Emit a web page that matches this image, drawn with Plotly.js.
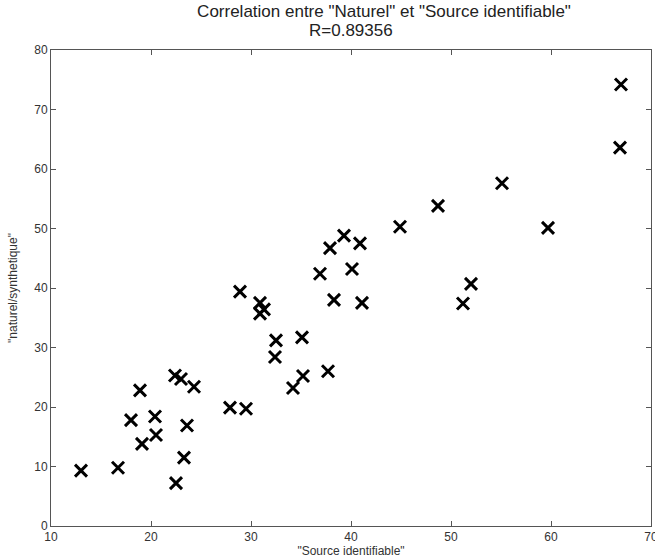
<!DOCTYPE html>
<html>
<head>
<meta charset="utf-8">
<script src="https://cdn.plot.ly/plotly-3.0.1.min.js"></script>
<style>html,body{margin:0;padding:0;background:#fff;}#chart{width:655px;height:559px;}</style>
</head>
<body>
<div id="chart"></div>
<script>
const sourceIdentifiable = [13.0, 16.7, 18.9, 18.0, 19.1, 20.4, 20.5, 22.4, 23.0, 24.3,
  23.6, 23.3, 22.5, 27.9, 29.5, 32.4, 32.5, 34.2, 35.2, 37.7,
  35.1, 28.9, 30.9, 31.3, 30.9, 36.9, 40.1, 38.3, 41.1, 37.9,
  39.3, 40.9, 44.9, 48.7, 55.1, 59.7, 52.0, 51.2, 67.0, 66.9];
const naturelSynthetique = [9.3, 9.8, 22.8, 17.8, 13.8, 18.4, 15.3, 25.3, 24.7, 23.4,
  16.9, 11.5, 7.2, 19.9, 19.7, 28.4, 31.2, 23.2, 25.2, 26.0,
  31.7, 39.4, 37.5, 36.4, 35.7, 42.4, 43.2, 38.0, 37.5, 46.7,
  48.8, 47.5, 50.3, 53.8, 57.6, 50.1, 40.7, 37.4, 74.2, 63.6];
const xTicks = [10, 20, 30, 40, 50, 60, 70];
const yTicks = [0, 10, 20, 30, 40, 50, 60, 70, 80];
const titleLine1 = 'Correlation entre "Naturel" et "Source identifiable"';
const titleLine2 = 'R=0.89356';

const FONT = 'Liberation Sans, Arial, sans-serif';

const trace = {
  x: sourceIdentifiable,
  y: naturelSynthetique,
  type: 'scatter',
  mode: 'markers',
  marker: {symbol: 'x-thin-open', size: 12, color: '#000', line: {color: '#000', width: 3}},
  hoverinfo: 'x+y'
};

const axisCommon = {
  showgrid: false, zeroline: false, showline: true, linecolor: '#555', linewidth: 1,
  mirror: 'ticks', ticks: 'inside', ticklen: 5, tickcolor: '#555',
  ticklabeloverflow: 'allow',
  tickfont: {family: FONT, size: 12, color: '#333'}
};

const layout = {
  width: 655, height: 559,
  margin: {l: 51, r: 4, t: 50, b: 33},
  paper_bgcolor: '#fff', plot_bgcolor: '#fff',
  showlegend: false,
  title: {
    text: titleLine1,
    font: {family: FONT, size: 17, color: '#222'},
    x: 0.555, xref: 'paper', xanchor: 'center',
    y: 0.98, yref: 'container', yanchor: 'middle'
  },
  annotations: [{
    text: titleLine2, showarrow: false,
    xref: 'paper', yref: 'paper', x: 0.5, y: 1.042, xanchor: 'center', yanchor: 'middle',
    font: {family: FONT, size: 17, color: '#222'}
  }],
  xaxis: Object.assign({}, axisCommon, {
    range: [10, 70], tickvals: xTicks, ticktext: xTicks.map(String),
    title: {text: '"Source identifiable"', standoff: 2,
      font: {family: FONT, size: 12, color: '#333'}}
  }),
  yaxis: Object.assign({}, axisCommon, {
    range: [0, 80], tickvals: yTicks, ticktext: yTicks.map(String),
    title: {text: '"naturel/synthetique"', standoff: 14,
      font: {family: FONT, size: 12, color: '#333'}}
  })
};

Plotly.newPlot('chart', [trace], layout, {displayModeBar: false, staticPlot: true});
</script>
</body>
</html>
